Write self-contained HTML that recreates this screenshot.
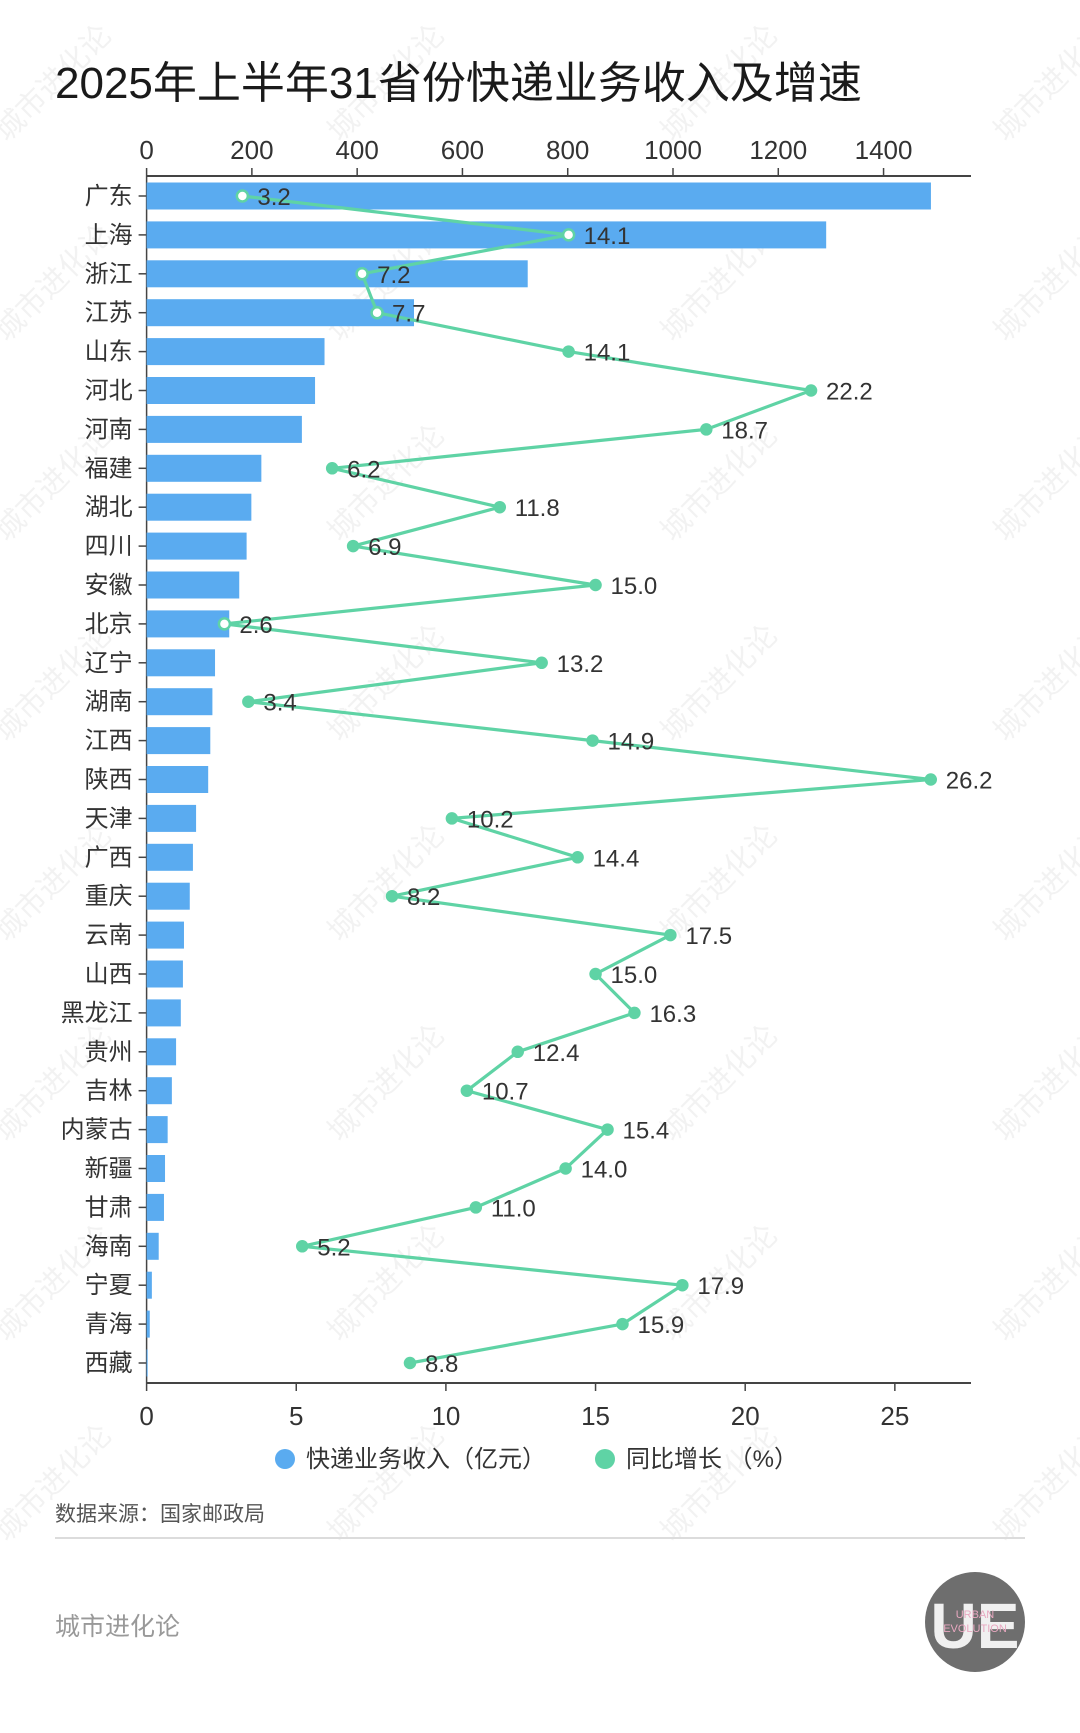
<!DOCTYPE html>
<html><head><meta charset="utf-8">
<style>
body{margin:0;background:#fff;}
svg text{font-family:"Liberation Sans","Noto Sans CJK SC",sans-serif;}
</style></head>
<body>
<svg id="chart" width="1080" height="1728" xmlns="http://www.w3.org/2000/svg">
<rect x="0" y="0" width="1080" height="1728" fill="#ffffff"/>
<g id="wm"></g>
<text x="55" y="98" font-size="44" fill="#1a1a1a">2025年上半年31省份快递业务收入及增速</text>
<g id="plot"></g>
<g>
<circle cx="285" cy="1459" r="10" fill="#5aabf0"/>
<text x="306" y="1467" font-size="24" fill="#333">快递业务收入（亿元）</text>
<circle cx="605" cy="1459" r="10" fill="#5fd3a5"/>
<text x="626" y="1467" font-size="24" fill="#333">同比增长 （%）</text>
</g>
<text x="55" y="1521" font-size="21" fill="#555">数据来源：国家邮政局</text>
<line x1="55" y1="1538" x2="1025" y2="1538" stroke="#dcdcdc" stroke-width="2"/>
<text x="55" y="1635" font-size="25" fill="#999">城市进化论</text>
<g>
<circle cx="975" cy="1622" r="50" fill="#6e6e6e"/>
<text x="975" y="1648" font-size="64" font-weight="bold" fill="#f0f0f0" text-anchor="middle">UE</text>
<text x="975" y="1618" font-size="11" fill="#e8a8c0" text-anchor="middle">URBAN</text>
<text x="975" y="1632" font-size="11" fill="#e8a8c0" text-anchor="middle">EVOLUTION</text>
</g>
</svg>
<script>
const provinces=["广东","上海","浙江","江苏","山东","河北","河南","福建","湖北","四川","安徽","北京","辽宁","湖南","江西","陕西","天津","广西","重庆","云南","山西","黑龙江","贵州","吉林","内蒙古","新疆","甘肃","海南","宁夏","青海","西藏"];
const revenue=[1490,1291,724,508,338,320,295,218,199,190,176,157,130,125,121,117,94,88,82,71,69,65,56,48,40,35,33,23,10,6,2];
const growth=[3.2,14.1,7.2,7.7,14.1,22.2,18.7,6.2,11.8,6.9,15.0,2.6,13.2,3.4,14.9,26.2,10.2,14.4,8.2,17.5,15.0,16.3,12.4,10.7,15.4,14.0,11.0,5.2,17.9,15.9,8.8];
const topTicks=[0,200,400,600,800,1000,1200,1400];
const bottomTicks=[0,5,10,15,20,25];

const NS="http://www.w3.org/2000/svg";
const X0=146.6, XEND=971;
const xRev=v=>X0+v*0.5264;
const xGr=v=>X0+v*29.93;
const yRow=i=>196+i*38.9;
const plot=document.getElementById('plot');
function mk(tag,attrs,parent){const e=document.createElementNS(NS,tag);for(const k in attrs)e.setAttribute(k,attrs[k]);(parent||plot).appendChild(e);return e;}

const wm=document.getElementById('wm');
for(let r=0;r<8;r++)for(let c=0;c<4;c++){
  const x=60+c*333, y=90+r*200;
  const t=mk('text',{x:x,y:y,'font-size':30,fill:'#000','fill-opacity':0.05,transform:`rotate(-45 ${x} ${y})`,'text-anchor':'middle'},wm);
  
  
  t.textContent='城市进化论';
}

let ax=mk('line',{x1:X0,y1:176,x2:XEND,y2:176,stroke:'#444','stroke-width':2});


topTicks.forEach(t=>{
  const x=xRev(t);
  const l=mk('line',{x1:x,y1:168,x2:x,y2:176,stroke:'#444','stroke-width':1.5});
  
  
  const tx=mk('text',{x:x,y:159,'font-size':26,fill:'#333','text-anchor':'middle'});
  
  
  tx.textContent=t;
});
ax=mk('line',{x1:X0,y1:1383,x2:XEND,y2:1383,stroke:'#444','stroke-width':2});


bottomTicks.forEach(t=>{
  const x=xGr(t);
  const l=mk('line',{x1:x,y1:1383,x2:x,y2:1391,stroke:'#444','stroke-width':1.5});
  
  
  const tx=mk('text',{x:x,y:1425,'font-size':26,fill:'#333','text-anchor':'middle'});
  
  
  tx.textContent=t;
});
ax=mk('line',{x1:X0,y1:176,x2:X0,y2:1383,stroke:'#444','stroke-width':1.5});



provinces.forEach((p,i)=>{
  const y=yRow(i);
  const b=mk('rect',{x:X0,y:y-13.5,width:Math.max(0.5,xRev(revenue[i])-X0),height:27,fill:'#5aabf0'});
  
  
  const l=mk('line',{x1:X0-8,y1:y,x2:X0,y2:y,stroke:'#444','stroke-width':1.5});
  
  
  const t=mk('text',{x:X0-14,y:y+8,'font-size':24,fill:'#333','text-anchor':'end'});
  
  
  t.textContent=p;
});
const pts=growth.map((g,i)=>xGr(g).toFixed(1)+','+yRow(i).toFixed(1)).join(' ');
const pl=mk('polyline',{points:pts,fill:'none',stroke:'#5fd3a5','stroke-width':3.2,'stroke-linejoin':'round'});


growth.forEach((g,i)=>{
  const x=xGr(g), y=yRow(i);
  const over=xGr(g)<xRev(revenue[i]);
  const c=mk('circle',{cx:x,cy:y,r:over?5.5:5,fill:over?'#ffffff':'#5fd3a5',stroke:'#5fd3a5','stroke-width':2.5});
  
  
  const t=mk('text',{x:x+15,y:y+9,'font-size':24,fill:'#333'});
  
  
  t.textContent=g.toFixed(1);
});
</script>
</body></html>
